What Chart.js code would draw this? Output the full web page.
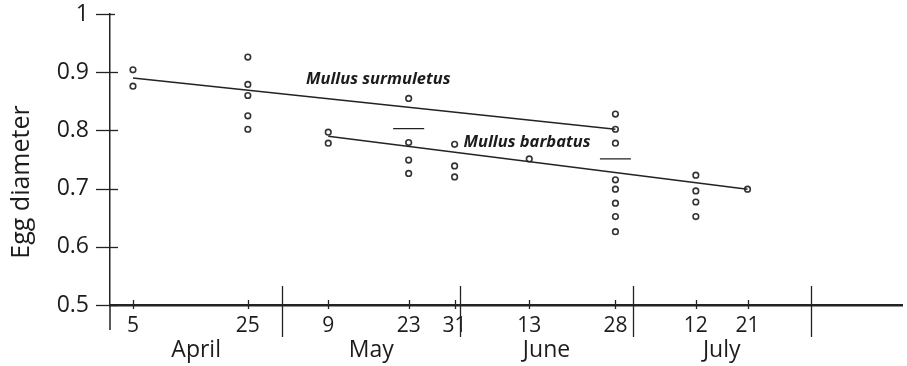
<!DOCTYPE html>
<html>
<head>
<meta charset="utf-8">
<script src="https://cdn.jsdelivr.net/npm/chart.js@4.4.1/dist/chart.umd.min.js"></script>
<style>
  html, body { margin: 0; padding: 0; background: #fff; }
  #wrap { width: 907px; height: 366px; position: relative; }
</style>
</head>
<body>
<div id="wrap"><canvas id="c" width="907" height="366"></canvas></div>
<script>
// Sampling dates as day of the year
const sampleDays = [95, 115, 129, 143, 151, 164, 179, 193, 202];
// Months shown under the axis and the day of the year each one starts on
const monthNames = ['April', 'May', 'June', 'July'];
const monthStarts = [91, 121, 152, 182, 213];
const yTicks = [0.5, 0.6, 0.7, 0.8, 0.9, 1];

// Egg diameters per sampling date
const surmuletusDays = [95, 115, 143, 179];
const surmuletusDiameters = [
  [0.904, 0.876],
  [0.926, 0.879, 0.860, 0.825, 0.802],
  [0.855],
  [0.828, 0.802, 0.778]
];
const barbatusDays = [129, 143, 151, 164, 179, 193, 202];
const barbatusDiameters = [
  [0.797, 0.778],
  [0.779, 0.749, 0.726],
  [0.776, 0.739, 0.720],
  [0.751],
  [0.715, 0.699, 0.675, 0.652, 0.626],
  [0.723, 0.696, 0.677, 0.652],
  [0.699]
];

// Fitted trend lines: first/last day and diameter at those days
const surmuletusTrendDays = [95, 179];
const surmuletusTrend = [0.890, 0.802];
const barbatusTrendDays = [129, 202];
const barbatusTrend = [0.790, 0.699];

// Short mean marks
const meanDays = [143, 179];
const meanDiameters = [0.803, 0.751];

const INK = '#232323';
const FONT = '"Open Sans", "DejaVu Sans", sans-serif';

function flatten(days, values) {
  const out = [];
  days.forEach((d, i) => values[i].forEach(v => out.push({ x: d, y: v })));
  return out;
}
function segment(days, values) {
  return days.map((d, i) => ({ x: d, y: values[i] }));
}
function dayOfMonth(day) {
  let start = monthStarts[0];
  for (const s of monthStarts) if (day >= s) start = s;
  return String(day - start + 1);
}

const pointStyle = {
  type: 'scatter',
  showLine: false,
  pointRadius: 2.8,
  pointHoverRadius: 2.8,
  pointBorderWidth: 1.6,
  pointBorderColor: '#333',
  pointBackgroundColor: '#fff'
};
const lineStyle = {
  type: 'scatter',
  showLine: true,
  borderColor: INK,
  borderWidth: 1.6,
  pointRadius: 0,
  pointHoverRadius: 0
};

const datasets = [
  Object.assign({ label: 'Mullus surmuletus trend', data: segment(surmuletusTrendDays, surmuletusTrend) }, lineStyle),
  Object.assign({ label: 'Mullus barbatus trend', data: segment(barbatusTrendDays, barbatusTrend) }, lineStyle)
];
meanDays.forEach((d, i) => {
  datasets.push(Object.assign({
    label: 'mean',
    data: [{ x: d - 2.7, y: meanDiameters[i] }, { x: d + 2.7, y: meanDiameters[i] }]
  }, lineStyle, { borderWidth: 1.4 }));
});
datasets.push(Object.assign({ label: 'Mullus surmuletus', data: flatten(surmuletusDays, surmuletusDiameters) }, pointStyle));
datasets.push(Object.assign({ label: 'Mullus barbatus', data: flatten(barbatusDays, barbatusDiameters) }, pointStyle));

// Hand-ruled axis details: crossing tick marks, month dividers, month names, species names
const paperAxes = {
  id: 'paperAxes',
  afterDatasetsDraw(chart, args, opts) {
    const { ctx, chartArea: a, scales: { x, y } } = chart;
    ctx.save();
    ctx.strokeStyle = INK;
    ctx.lineCap = 'butt';

    // y axis runs on below the x axis
    ctx.lineWidth = 1.5;
    ctx.beginPath();
    ctx.moveTo(a.left, a.bottom);
    ctx.lineTo(a.left, a.bottom + 25);
    ctx.stroke();

    // y tick marks cross the axis
    ctx.lineWidth = 1.3;
    y.ticks.forEach(t => {
      const py = Math.round(y.getPixelForValue(t.value)) + 0.5;
      ctx.beginPath();
      ctx.moveTo(a.left - 14, py);
      ctx.lineTo(a.left + (t.value === 1 ? 5 : 8), py);
      ctx.stroke();
    });

    // x tick marks on each sampling date
    x.ticks.forEach(t => {
      const px = Math.round(x.getPixelForValue(t.value)) + 0.5;
      ctx.beginPath();
      ctx.moveTo(px, a.bottom - 5);
      ctx.lineTo(px, a.bottom + 4);
      ctx.stroke();
    });

    // month dividers
    ctx.lineWidth = 1.3;
    monthStarts.slice(1).forEach(d => {
      const px = Math.round(x.getPixelForValue(d)) + 0.5;
      ctx.beginPath();
      ctx.moveTo(px, a.bottom - 19);
      ctx.lineTo(px, a.bottom + 32);
      ctx.stroke();
    });

    // month names centred in each month
    ctx.fillStyle = '#1c1c1c';
    ctx.font = '23px ' + FONT;
    ctx.textAlign = 'center';
    ctx.textBaseline = 'alphabetic';
    monthNames.forEach((m, i) => {
      const px = x.getPixelForValue((monthStarts[i] + monthStarts[i + 1]) / 2);
      ctx.fillText(m, px, a.bottom + 52);
    });

    // species names beside their trend lines
    ctx.font = 'italic bold 16.5px ' + FONT;
    ctx.textBaseline = 'middle';
    opts.species.forEach(s => {
      ctx.fillText(s.text, x.getPixelForValue(s.day), y.getPixelForValue(s.value));
    });

    // y axis title
    ctx.font = '25px ' + FONT;
    ctx.translate(22, opts.titleY);
    ctx.rotate(-Math.PI / 2);
    ctx.fillText('Egg diameter', 0, 0);
    ctx.restore();
  }
};

new Chart(document.getElementById('c'), {
  type: 'scatter',
  data: { datasets },
  options: {
    responsive: false,
    animation: false,
    events: [],
    layout: { padding: { top: 14, right: 0, left: 0, bottom: 0 } },
    plugins: {
      legend: { display: false },
      tooltip: { enabled: false },
      paperAxes: {
        titleY: 182,
        species: [
          { text: 'Mullus surmuletus', day: 137.7, value: 0.888 },
          { text: 'Mullus barbatus', day: 163.6, value: 0.780 }
        ]
      }
    },
    scales: {
      x: {
        type: 'linear',
        min: 91,
        max: 229,
        afterFit(scale) { scale.height = 61; scale.paddingLeft = 0; scale.paddingRight = 0; },
        afterBuildTicks(scale) { scale.ticks = sampleDays.map(v => ({ value: v })); },
        grid: { display: false, drawTicks: false },
        border: { display: true, color: INK, width: 2.6 },
        ticks: {
          autoSkip: false,
          maxRotation: 0,
          padding: 8,
          color: '#1c1c1c',
          font: { family: FONT, size: 21 },
          callback: v => dayOfMonth(v)
        }
      },
      y: {
        type: 'linear',
        min: 0.5,
        max: 1,
        afterFit(scale) { scale.width = 110; scale.paddingTop = 0; scale.paddingBottom = 0; },
        afterBuildTicks(scale) { scale.ticks = yTicks.map(v => ({ value: v })); },
        grid: { display: false, drawTicks: false },
        border: { display: true, color: INK, width: 1.5 },
        ticks: {
          padding: 21,
          color: '#1c1c1c',
          font: { family: FONT, size: 23 },
          callback: v => (v === 1 ? '1' : v.toFixed(1))
        }
      }
    }
  },
  plugins: [paperAxes]
});
</script>
</body>
</html>
